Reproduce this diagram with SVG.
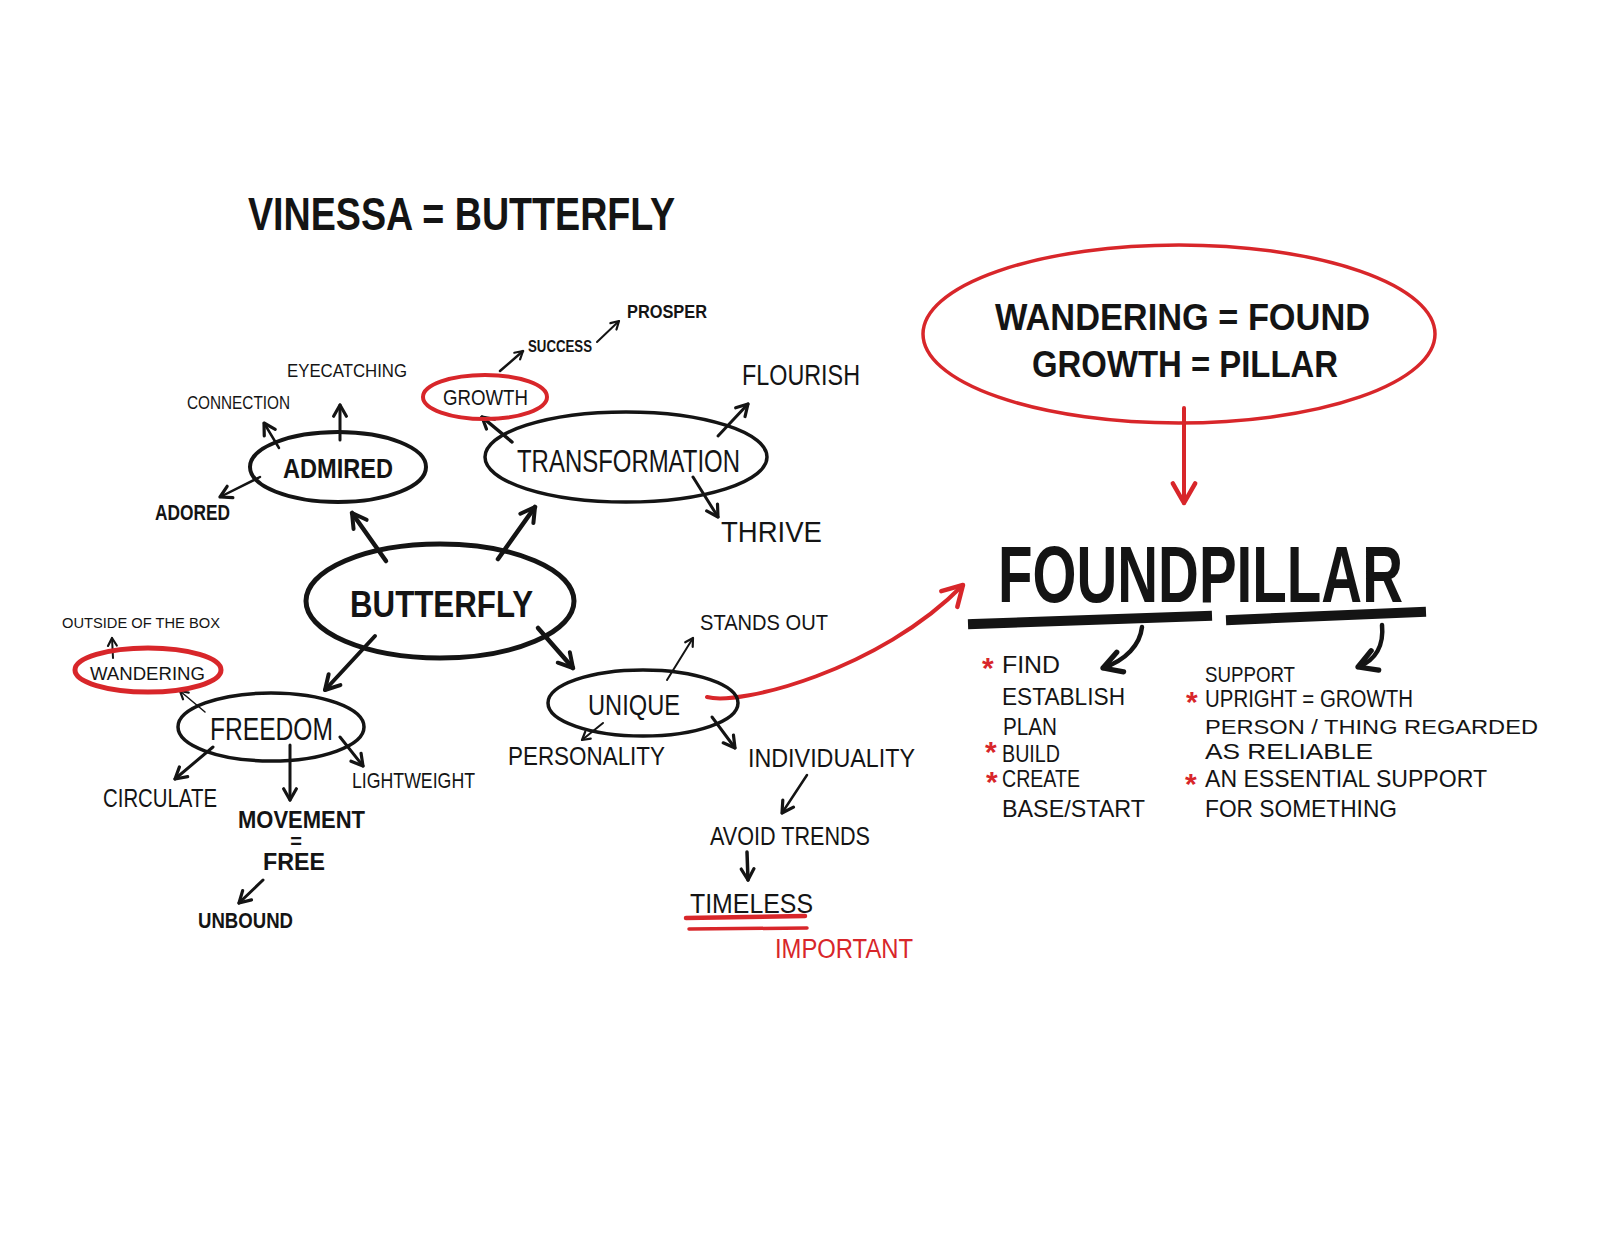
<svg xmlns="http://www.w3.org/2000/svg" width="1600" height="1237" viewBox="0 0 1600 1237">
<style>
text{font-family:"Liberation Sans","DejaVu Sans",sans-serif;fill:#141414}
.b{font-weight:bold}
.r{fill:#d8262a}
.ast{fill:#d8262a;font-weight:bold;font-size:30px}
.node{fill:none;stroke:#141414}
.rn{fill:none;stroke:#d8262a}
.c{fill:none;stroke:#141414;stroke-linecap:round}
.rc{fill:none;stroke:#d8262a;stroke-linecap:round}
</style>
<defs>
<marker id="ah3" viewBox="0 0 20 20" markerUnits="userSpaceOnUse" markerWidth="20" markerHeight="20" refX="17" refY="10" orient="auto" overflow="visible">
<path d="M3,2 L17,10 L3,18" fill="none" stroke="#141414" stroke-width="4" stroke-linecap="round" stroke-linejoin="round"/>
</marker>
<marker id="ah2" viewBox="0 0 20 20" markerUnits="userSpaceOnUse" markerWidth="16" markerHeight="16" refX="17" refY="10" orient="auto" overflow="visible">
<path d="M3,2 L17,10 L3,18" fill="none" stroke="#141414" stroke-width="4" stroke-linecap="round" stroke-linejoin="round"/>
</marker>
<marker id="ah1" viewBox="0 0 20 20" markerUnits="userSpaceOnUse" markerWidth="11" markerHeight="11" refX="17" refY="10" orient="auto" overflow="visible">
<path d="M3,2 L17,10 L3,18" fill="none" stroke="#141414" stroke-width="4" stroke-linecap="round" stroke-linejoin="round"/>
</marker>
<marker id="ahr" viewBox="0 0 20 20" markerUnits="userSpaceOnUse" markerWidth="28" markerHeight="28" refX="17" refY="10" orient="auto" overflow="visible">
<path d="M3,2 L17,10 L3,18" fill="none" stroke="#d8262a" stroke-width="3.2" stroke-linecap="round" stroke-linejoin="round"/>
</marker>
<marker id="ahb" viewBox="0 0 20 20" markerUnits="userSpaceOnUse" markerWidth="26" markerHeight="26" refX="17" refY="10" orient="auto" overflow="visible">
<path d="M3,2 L17,10 L3,18" fill="none" stroke="#141414" stroke-width="4" stroke-linecap="round" stroke-linejoin="round"/>
</marker>
</defs>
<rect width="1600" height="1237" fill="#ffffff"/>

<g id="title">
<text class="b" x="248" y="230" font-size="46" textLength="427" lengthAdjust="spacingAndGlyphs">VINESSA = BUTTERFLY</text>
</g>

<g id="connectors">
<line class="c" x1="386" y1="561" x2="352" y2="513" stroke-width="4.5" marker-end="url(#ah3)"/>
<line class="c" x1="498" y1="559" x2="535" y2="507" stroke-width="4.5" marker-end="url(#ah3)"/>
<line class="c" x1="375" y1="636" x2="325" y2="690" stroke-width="4" marker-end="url(#ah3)"/>
<line class="c" x1="538" y1="628" x2="573" y2="668" stroke-width="4.5" marker-end="url(#ah3)"/>
<line class="c" x1="279" y1="448" x2="264" y2="423" stroke-width="2.5" marker-end="url(#ah2)"/>
<line class="c" x1="340" y1="440" x2="340" y2="405" stroke-width="3" marker-end="url(#ah2)"/>
<line class="c" x1="260" y1="477" x2="220" y2="497" stroke-width="2.5" marker-end="url(#ah2)"/>
<line class="c" x1="512" y1="442" x2="482" y2="417" stroke-width="3.5" marker-end="url(#ah2)"/>
<line class="c" x1="500" y1="371" x2="523" y2="351" stroke-width="2.5" marker-end="url(#ah1)"/>
<line class="c" x1="597" y1="342" x2="619" y2="321" stroke-width="2" marker-end="url(#ah1)"/>
<line class="c" x1="718" y1="436" x2="748" y2="404" stroke-width="3" marker-end="url(#ah2)"/>
<line class="c" x1="693" y1="477" x2="718" y2="517" stroke-width="3" marker-end="url(#ah2)"/>
<line class="c" x1="205" y1="712" x2="180" y2="691" stroke-width="1.5" marker-end="url(#ah1)"/>
<line class="c" x1="113" y1="658" x2="112" y2="638" stroke-width="2" marker-end="url(#ah1)"/>
<line class="c" x1="213" y1="747" x2="175" y2="779" stroke-width="3" marker-end="url(#ah2)"/>
<line class="c" x1="290" y1="745" x2="290" y2="800" stroke-width="3" marker-end="url(#ah2)"/>
<line class="c" x1="340" y1="737" x2="363" y2="766" stroke-width="3" marker-end="url(#ah2)"/>
<line class="c" x1="263" y1="880" x2="239" y2="903" stroke-width="3" marker-end="url(#ah2)"/>
<line class="c" x1="667" y1="680" x2="693" y2="638" stroke-width="2" marker-end="url(#ah1)"/>
<line class="c" x1="603" y1="723" x2="582" y2="740" stroke-width="2" marker-end="url(#ah1)"/>
<line class="c" x1="712" y1="717" x2="735" y2="748" stroke-width="3" marker-end="url(#ah2)"/>
<line class="c" x1="807" y1="775" x2="782" y2="813" stroke-width="2.5" marker-end="url(#ah2)"/>
<line class="c" x1="747" y1="852" x2="748" y2="880" stroke-width="3.5" marker-end="url(#ah2)"/>
<path class="rc" d="M707,697 C740,706 880,670 963,585" stroke-width="4" marker-end="url(#ahr)"/>
<line class="rc" x1="1184" y1="408" x2="1184" y2="503" stroke-width="4" marker-end="url(#ahr)"/>
<path class="c" d="M1142,627 C1140,645 1126,660 1103,668" stroke-width="4.5" marker-end="url(#ahb)"/>
<path class="c" d="M1382,625 C1384,645 1376,660 1358,667" stroke-width="4.5" marker-end="url(#ahb)"/>
</g>

<g id="admired">
<ellipse class="node" cx="338" cy="467" rx="88" ry="35" stroke-width="4"/>
<text class="b" x="283" y="478" font-size="28" textLength="110" lengthAdjust="spacingAndGlyphs">ADMIRED</text>
</g>
<g id="eyecatching"><text x="287" y="377" font-size="18" textLength="120" lengthAdjust="spacingAndGlyphs">EYECATCHING</text></g>
<g id="connection"><text x="187" y="409" font-size="18" textLength="103" lengthAdjust="spacingAndGlyphs">CONNECTION</text></g>
<g id="adored"><text class="b" x="155" y="520" font-size="22" textLength="75" lengthAdjust="spacingAndGlyphs">ADORED</text></g>

<g id="growth">
<ellipse class="rn" cx="485" cy="397" rx="62" ry="22" stroke-width="4"/>
<text x="443" y="405" font-size="22" textLength="85" lengthAdjust="spacingAndGlyphs">GROWTH</text>
</g>
<g id="success"><text class="b" x="528" y="352" font-size="16" textLength="64" lengthAdjust="spacingAndGlyphs">SUCCESS</text></g>
<g id="prosper"><text class="b" x="627" y="318" font-size="18" textLength="80" lengthAdjust="spacingAndGlyphs">PROSPER</text></g>

<g id="transformation">
<ellipse class="node" cx="626" cy="457" rx="141" ry="45" stroke-width="3.5"/>
<text x="517" y="472" font-size="31" textLength="223" lengthAdjust="spacingAndGlyphs">TRANSFORMATION</text>
</g>
<g id="flourish"><text x="742" y="385" font-size="29" textLength="118" lengthAdjust="spacingAndGlyphs">FLOURISH</text></g>
<g id="thrive"><text x="721" y="542" font-size="30" textLength="101" lengthAdjust="spacingAndGlyphs">THRIVE</text></g>

<g id="butterfly">
<ellipse class="node" cx="440" cy="601" rx="134" ry="57" stroke-width="5"/>
<text class="b" x="350" y="617" font-size="37" textLength="183" lengthAdjust="spacingAndGlyphs">BUTTERFLY</text>
</g>

<g id="wandering">
<ellipse class="rn" cx="148" cy="670" rx="73" ry="22" stroke-width="5"/>
<text x="90" y="680" font-size="19" textLength="115" lengthAdjust="spacingAndGlyphs">WANDERING</text>
</g>
<g id="outside"><text x="62" y="628" font-size="15" textLength="158" lengthAdjust="spacingAndGlyphs">OUTSIDE OF THE BOX</text></g>

<g id="freedom">
<ellipse class="node" cx="271" cy="727" rx="93" ry="34" stroke-width="3.5"/>
<text x="210" y="740" font-size="31" textLength="123" lengthAdjust="spacingAndGlyphs">FREEDOM</text>
</g>
<g id="circulate"><text x="103" y="807" font-size="25" textLength="114" lengthAdjust="spacingAndGlyphs">CIRCULATE</text></g>
<g id="movement">
<text class="b" x="238" y="828" font-size="24" textLength="127" lengthAdjust="spacingAndGlyphs">MOVEMENT</text>
<text class="b" x="296" y="848" font-size="20" text-anchor="middle">=</text>
<text class="b" x="263" y="870" font-size="23" textLength="62" lengthAdjust="spacingAndGlyphs">FREE</text>
</g>
<g id="unbound"><text class="b" x="198" y="928" font-size="22" textLength="95" lengthAdjust="spacingAndGlyphs">UNBOUND</text></g>
<g id="lightweight"><text x="352" y="788" font-size="22" textLength="123" lengthAdjust="spacingAndGlyphs">LIGHTWEIGHT</text></g>

<g id="unique">
<ellipse class="node" cx="643" cy="703" rx="95" ry="33" stroke-width="3.5"/>
<text x="588" y="715" font-size="29" textLength="92" lengthAdjust="spacingAndGlyphs">UNIQUE</text>
</g>
<g id="standsout"><text x="700" y="630" font-size="22" textLength="128" lengthAdjust="spacingAndGlyphs">STANDS OUT</text></g>
<g id="personality"><text x="508" y="765" font-size="25" textLength="157" lengthAdjust="spacingAndGlyphs">PERSONALITY</text></g>
<g id="individuality"><text x="748" y="767" font-size="25" textLength="167" lengthAdjust="spacingAndGlyphs">INDIVIDUALITY</text></g>
<g id="avoidtrends"><text x="710" y="845" font-size="25" textLength="160" lengthAdjust="spacingAndGlyphs">AVOID TRENDS</text></g>
<g id="timeless">
<text x="690" y="913" font-size="27" textLength="123" lengthAdjust="spacingAndGlyphs">TIMELESS</text>
<line class="rc" x1="686" y1="918" x2="805" y2="916" stroke-width="4.5"/>
<line class="rc" x1="689" y1="929" x2="807" y2="928" stroke-width="3.5"/>
<text class="r" x="775" y="958" font-size="27" textLength="138" lengthAdjust="spacingAndGlyphs">IMPORTANT</text>
</g>

<g id="equation">
<ellipse class="rn" cx="1179" cy="334" rx="256" ry="89" stroke-width="3.5"/>
<text class="b" x="995" y="330" font-size="36" textLength="375" lengthAdjust="spacingAndGlyphs">WANDERING = FOUND</text>
<text class="b" x="1032" y="377" font-size="36" textLength="306" lengthAdjust="spacingAndGlyphs">GROWTH = PILLAR</text>
</g>

<g id="foundpillar">
<text class="b" x="998" y="602" font-size="80" textLength="405" lengthAdjust="spacingAndGlyphs">FOUNDPILLAR</text>
<line x1="973" y1="624" x2="1207" y2="616" stroke="#141414" stroke-width="10" stroke-linecap="square"/>
<line x1="1231" y1="620" x2="1421" y2="612" stroke="#141414" stroke-width="10" stroke-linecap="square"/>
</g>

<g id="found-list">
<text class="ast" x="982" y="678">*</text>
<text x="1002" y="673" font-size="24" textLength="58" lengthAdjust="spacingAndGlyphs">FIND</text>
<text x="1002" y="705" font-size="24" textLength="123" lengthAdjust="spacingAndGlyphs">ESTABLISH</text>
<text x="1003" y="735" font-size="24" textLength="54" lengthAdjust="spacingAndGlyphs">PLAN</text>
<text class="ast" x="985" y="762">*</text>
<text x="1002" y="762" font-size="24" textLength="58" lengthAdjust="spacingAndGlyphs">BUILD</text>
<text class="ast" x="986" y="792">*</text>
<text x="1002" y="787" font-size="24" textLength="78" lengthAdjust="spacingAndGlyphs">CREATE</text>
<text x="1002" y="817" font-size="24" textLength="143" lengthAdjust="spacingAndGlyphs">BASE/START</text>
</g>

<g id="pillar-list">
<text x="1205" y="682" font-size="22" textLength="90" lengthAdjust="spacingAndGlyphs">SUPPORT</text>
<text class="ast" x="1186" y="712">*</text>
<text x="1205" y="707" font-size="23" textLength="208" lengthAdjust="spacingAndGlyphs">UPRIGHT = GROWTH</text>
<text x="1205" y="734" font-size="21" textLength="333" lengthAdjust="spacingAndGlyphs">PERSON / THING  REGARDED</text>
<text x="1205" y="759" font-size="22" textLength="168" lengthAdjust="spacingAndGlyphs">AS RELIABLE</text>
<text class="ast" x="1185" y="794">*</text>
<text x="1205" y="787" font-size="24" textLength="282" lengthAdjust="spacingAndGlyphs">AN ESSENTIAL SUPPORT</text>
<text x="1205" y="817" font-size="24" textLength="192" lengthAdjust="spacingAndGlyphs">FOR SOMETHING</text>
</g>
</svg>
